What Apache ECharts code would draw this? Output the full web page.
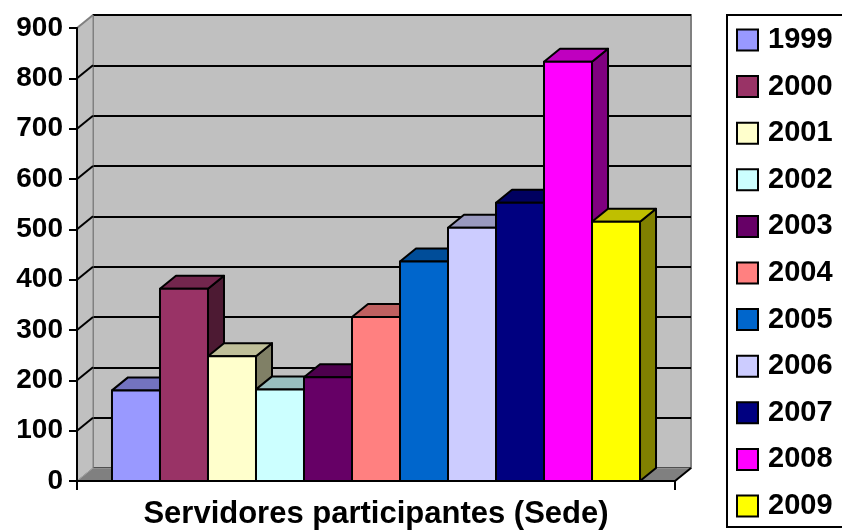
<!DOCTYPE html>
<html>
<head>
<meta charset="utf-8">
<script src="https://cdn.jsdelivr.net/npm/echarts@6/dist/echarts.min.js"></script>
<style>html,body{margin:0;padding:0;background:#fff;}#c{width:842px;height:531px;}</style>
</head>
<body>
<div id="c"></div>
<script>
const categories = ['Servidores participantes (Sede)'];
const years = ['1999','2000','2001','2002','2003','2004','2005','2006','2007','2008','2009'];
const values = [180, 382, 248, 182, 206, 326, 436, 503, 553, 833, 515];
const yTicks = [0, 100, 200, 300, 400, 500, 600, 700, 800, 900];
const colors = ['#9999FF','#993366','#FFFFCC','#CCFFFF','#660066','#FF8080','#0066CC','#CCCCFF','#000080','#FF00FF','#FFFF00'];

const DX = 16, DY = -13;
const FONT = 'Arial, "Liberation Sans", sans-serif';

function shade(hex, k) {
  const n = parseInt(hex.slice(1), 16);
  const r = Math.round(((n >> 16) & 255) * k), g = Math.round(((n >> 8) & 255) * k), b = Math.round((n & 255) * k);
  return 'rgb(' + r + ',' + g + ',' + b + ')';
}

const chart = echarts.init(document.getElementById('c'), null, {renderer: 'canvas'});

const barSeries = years.map((y, i) => ({
  name: y,
  type: 'custom',
  xAxisIndex: 1,
  yAxisIndex: 1,
  z: 3,
  itemStyle: {color: colors[i]},
  data: [[0, values[i]]],
  renderItem: function (params, api) {
    const base = api.coord([0, 0]);
    const top = api.coord([0, api.value(1)]);
    const band = api.size([1, 0])[0];
    const bw = band * 0.883 / years.length;
    const x0 = base[0] - bw * years.length / 2 + i * bw;
    const ty = top[1], by = base[1];
    const st = {stroke: '#000', lineWidth: 2, lineJoin: 'round'};
    return {
      type: 'group',
      children: [
        {type: 'polygon', z2: i * 3, shape: {points: [[x0 + bw, ty], [x0 + bw + DX, ty + DY], [x0 + bw + DX, by + DY], [x0 + bw, by]]},
          style: Object.assign({fill: shade(colors[i], 0.5)}, st)},
        {type: 'polygon', z2: i * 3 + 1, shape: {points: [[x0, ty], [x0 + DX, ty + DY], [x0 + bw + DX, ty + DY], [x0 + bw, ty]]},
          style: Object.assign({fill: shade(colors[i], 0.75)}, st)},
        {type: 'rect', z2: i * 3 + 2, shape: {x: x0, y: ty, width: bw, height: by - ty},
          style: Object.assign({fill: colors[i]}, st)}
      ]
    };
  }
}));

const wallSeries = {
  name: 'walls',
  type: 'custom',
  xAxisIndex: 1,
  yAxisIndex: 1,
  z: 1,
  silent: true,
  data: [[0, 0]],
  renderItem: function (params, api) {
    const cs = params.coordSys;
    const L = cs.x, R = cs.x + cs.width;
    const b0 = api.coord([0, yTicks[0]])[1];
    const bTop = api.coord([0, yTicks[yTicks.length - 1]])[1];
    const children = [];
    children.push({type: 'polygon', shape: {points: [[L, bTop], [L + DX, bTop + DY], [L + DX, b0 + DY], [L, b0]]},
      style: {fill: '#c0c0c0', stroke: '#808080', lineWidth: 1}});
    children.push({type: 'polygon', shape: {points: [[L, b0], [L + DX, b0 + DY], [R + DX, b0 + DY], [R, b0]]},
      style: {fill: '#808080', stroke: '#a0a0a0', lineWidth: 1}});
    children.push({type: 'line', shape: {x1: R, y1: b0, x2: R + DX, y2: b0 + DY}, style: {stroke: '#000', lineWidth: 2}});
    for (let k = 1; k < yTicks.length; k++) {
      const yy = api.coord([0, yTicks[k]])[1];
      const last = k === yTicks.length - 1;
      children.push({type: 'line', shape: {x1: L, y1: yy, x2: L + DX, y2: yy + DY},
        style: {stroke: last ? '#808080' : '#000', lineWidth: 2}});
    }
    return {type: 'group', children: children};
  }
};

const option = {
  animation: false,
  color: colors,
  grid: [
    {left: 77 + DX, top: 28 + DY, width: 598, height: 453, show: true, backgroundColor: '#c0c0c0', borderColor: '#808080', borderWidth: 2, z: 0},
    {left: 77, top: 28, width: 598, height: 453}
  ],
  xAxis: [
    {type: 'category', gridIndex: 0, data: categories, show: false},
    {type: 'category', gridIndex: 1, data: categories, z: 5,
      axisLine: {show: true, lineStyle: {color: '#000', width: 2}},
      axisTick: {show: true, length: 9, lineStyle: {color: '#000', width: 2}},
      axisLabel: {show: true, interval: 0, margin: 18, color: '#000', fontSize: 31, fontWeight: 'bold', fontFamily: FONT},
      splitLine: {show: false}}
  ],
  yAxis: [
    {type: 'value', gridIndex: 0, min: 0, max: 900, interval: 100,
      axisLine: {show: false}, axisTick: {show: false}, axisLabel: {show: false},
      splitLine: {show: true, lineStyle: {color: '#000', width: 2}}},
    {type: 'value', gridIndex: 1, min: 0, max: 900, interval: 100, z: 5,
      axisLine: {show: true, lineStyle: {color: '#000', width: 2}},
      axisTick: {show: true, length: 8, lineStyle: {color: '#000', width: 2}},
      axisLabel: {show: true, margin: 14, color: '#000', fontSize: 28, fontWeight: 'bold', fontFamily: FONT},
      splitLine: {show: false}}
  ],
  legend: {
    data: years,
    orient: 'vertical',
    left: 727,
    top: 15,
    padding: [10, 60, 6, 9],
    itemGap: 16.6,
    itemWidth: 21,
    itemHeight: 21,
    icon: 'rect',
    itemStyle: {borderColor: '#000', borderWidth: 2},
    backgroundColor: '#fff',
    borderColor: '#000',
    borderWidth: 2,
    borderRadius: 0,
    selectedMode: false,
    textStyle: {color: '#000', fontSize: 29, fontWeight: 'bold', fontFamily: FONT, lineHeight: 30, padding: [0, 0, 0, 5]}
  },
  series: [wallSeries].concat(barSeries)
};
chart.setOption(option);
</script>
</body>
</html>
